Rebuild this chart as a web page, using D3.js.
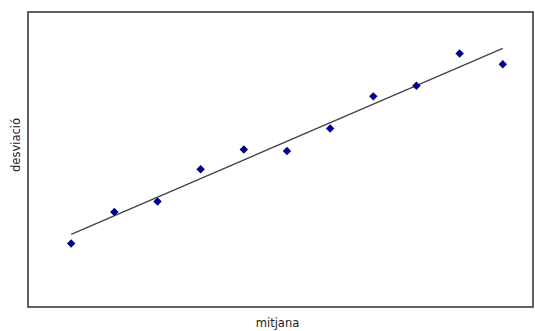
<!DOCTYPE html>
<html><head><meta charset="utf-8">
<script src="https://cdn.jsdelivr.net/npm/d3@7"></script>
<style>html,body{margin:0;padding:0;background:#fff;}</style>
</head><body>
<svg id="c" width="535" height="331"></svg>
<script>
const mitjana = [1,2,3,4,5,6,7,8,9,10,11];
const desviacio = [21.5,32.2,35.8,46.7,53.4,52.9,60.5,71.4,75.0,85.9,82.3];
const xLabel = "mitjana";
const yLabel = "desviació";

const svg = d3.select("#c");
const L = 28, R = 533, T = 12, B = 307;
const x = d3.scaleLinear().domain([0, 11.7]).range([L, R]);
const y = d3.scaleLinear().domain([0, 100]).range([B, T]);

// regression
const mx = d3.mean(mitjana), my = d3.mean(desviacio);
const sxy = d3.sum(mitjana, (v,i) => (v-mx)*(desviacio[i]-my));
const sxx = d3.sum(mitjana, v => (v-mx)*(v-mx));
const b = sxy/sxx, a = my - b*mx;
const xmin = d3.min(mitjana), xmax = d3.max(mitjana);

svg.append("rect").attr("x", L).attr("y", T).attr("width", R-L).attr("height", B-T)
  .attr("fill", "none").attr("stroke", "#3a3a3a").attr("stroke-width", 1.6);

svg.append("line")
  .attr("x1", x(xmin)).attr("y1", y(a+b*xmin))
  .attr("x2", x(xmax)).attr("y2", y(a+b*xmax))
  .attr("stroke", "#444").attr("stroke-width", 1.3);

const diamond = d3.symbol().type(d3.symbolSquare).size(36);
svg.selectAll("path.pt").data(mitjana).join("path").attr("class","pt")
  .attr("d", diamond)
  .attr("transform", (d,i) => `translate(${x(d)},${y(desviacio[i])}) rotate(45)`)
  .attr("fill", "#00008b");

svg.append("text").attr("x", (L+R)/2 - 3).attr("y", 327)
  .attr("text-anchor","middle").attr("font-family","DejaVu Sans").attr("font-size", 11.5)
  .attr("fill","#222").text(xLabel);

svg.append("text").attr("transform", `translate(20,145) rotate(-90)`)
  .attr("text-anchor","middle").attr("font-family","DejaVu Sans").attr("font-size", 11.5)
  .attr("fill","#222").text(yLabel);
</script>
</body></html>
